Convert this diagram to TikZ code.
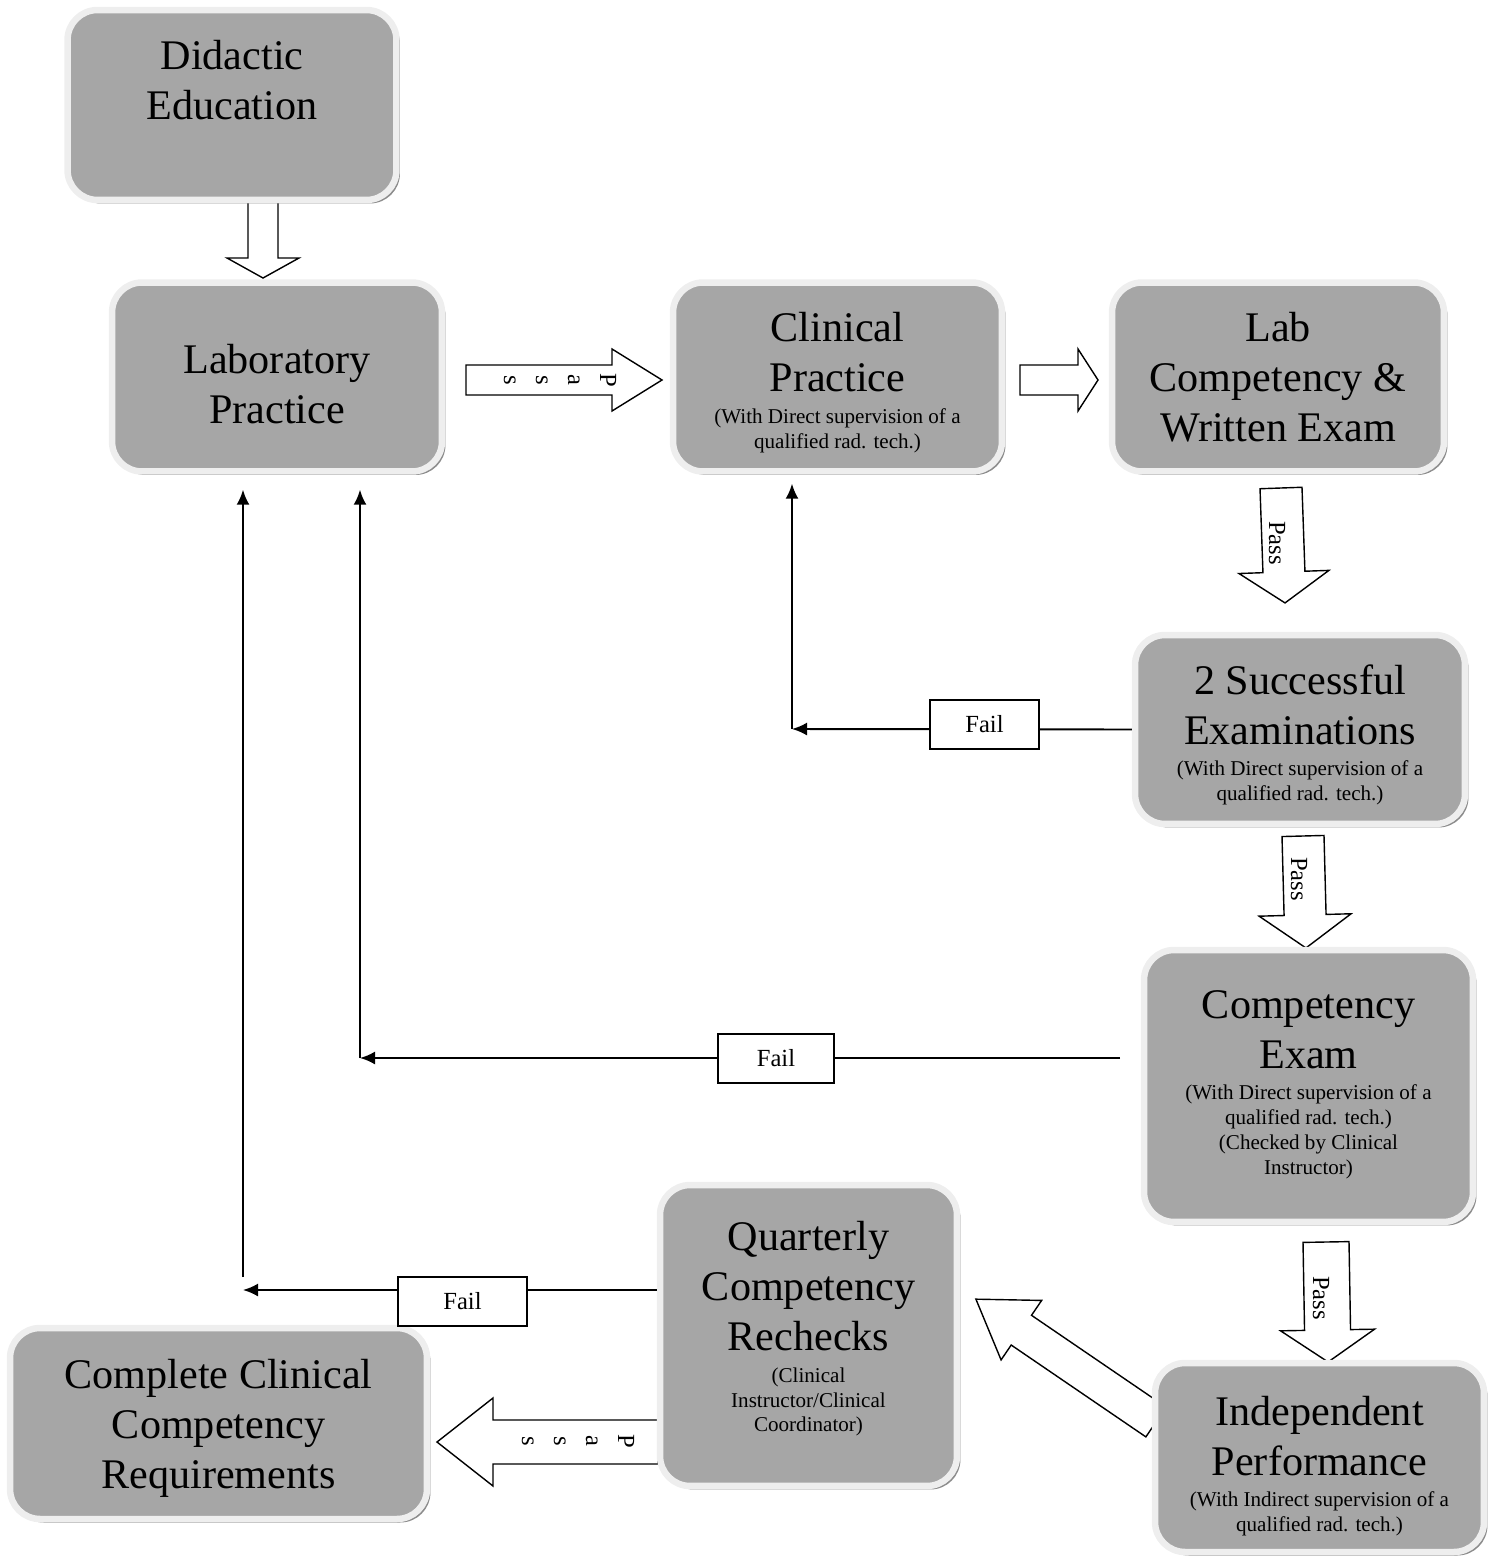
\documentclass[tikz,border=0pt]{standalone}
\usepackage{fontspec}
\setmainfont{Liberation Serif}
\usetikzlibrary{arrows.meta,shadows}

\definecolor{boxgray}{RGB}{166,166,166}
\definecolor{rimgray}{RGB}{238,238,238}
\newcommand{\bigline}{\fontsize{24}{28.45}\selectfont}
\newcommand{\smallline}{\fontsize{12}{14.2}\selectfont}
% the small remark under a stage title
\newcommand{\remark}[1]{{\smallline\begin{tabular}[t]{@{}c@{}}#1\end{tabular}}}
% hollow block arrow: tail point, angle, length, shaft half width, head half width, head length
\newcommand{\fatarrow}[6]{%
    \begin{scope}[shift={#1}, rotate=#2]
        \draw[fat] (0,#4) -- ({#3-#6},#4) -- ({#3-#6},#5) -- (#3,0)
            -- ({#3-#6},-#5) -- ({#3-#6},-#4) -- (0,-#4) -- cycle;
    \end{scope}}

\begin{document}
\begin{tikzpicture}[x=0.02cm, y=-0.02cm,
        stage/.style={
            % The shape:
            rectangle, rounded corners=0.6cm,
            % The border
            line width=0.13cm, draw=rimgray,
            drop shadow={shadow xshift=0.07cm, shadow yshift=-0.07cm, fill=black!45, opacity=1},
            % The filling
            fill=boxgray,
            % Font
            font=\bigline, align=center, inner sep=0pt
        },
        failbox/.style={
            rectangle, draw=black, thick, fill=white,
            minimum height=0.98cm, font=\fontsize{14}{16}\selectfont
        },
        passtext/.style={font=\fontsize{14}{18.2}\selectfont, rotate=-90, align=center},
        fat/.style={draw=black, thick, fill=white, line join=miter},
        flow/.style={line width=1.1pt, -{Latex[length=0.3cm, width=0.26cm]}}
    ]

    \useasboundingbox (0,0) rectangle (1494,1561);

    % hollow arrows first, so the stages sit on top
    \fatarrow{(263,200)}{-90}{78}{15}{36}{20}
    \fatarrow{(466,380)}{0}{196}{15}{31}{50}
    \fatarrow{(1020,380)}{0}{78}{15}{31}{20}
    \fatarrow{(1281,488)}{-88}{115}{21}{45}{31}
    \fatarrow{(1303,836)}{-88.5}{112}{21}{46}{33}
    \fatarrow{(1326,1242)}{-89}{120}{23}{47}{32}
    \fatarrow{(1156,1422)}{145.7}{218}{18}{36}{55}
    \fatarrow{(658,1442)}{180}{221}{22}{44}{56}

    \node [passtext] (pass1) at (560,380) {P\\a\\s\\s};
    \node [passtext] (pass2) at (1277,543) {Pass};
    \node [passtext] (pass3) at (1299,879) {Pass};
    \node [passtext] (pass4) at (1321,1298) {Pass};
    \node [passtext] (pass5) at (578,1441) {P\\a\\s\\s};

    % the stages
    \node [stage, minimum width=6.58cm, minimum height=3.8cm] (didactic) at (232,105)
        {Didactic\\Education\\\mbox{}};
    \node [stage, minimum width=6.6cm, minimum height=3.78cm] (labpractice) at (277,377)
        {\rule{0pt}{25pt}Laboratory\\Practice};
    \node [stage, minimum width=6.58cm, minimum height=3.78cm] (clinical) at (837.5,377)
        {\rule{0pt}{24.5pt}Clinical\\Practice\\[-10.5pt]\remark{(With Direct supervision of a\\qualified rad. tech.)}};
    \node [stage, minimum width=6.64cm, minimum height=3.78cm] (labcomp) at (1278,377)
        {Lab\\Competency \&\\Written Exam};
    \node [stage, minimum width=6.6cm, minimum height=3.78cm] (twoexams) at (1300,729.5)
        {\rule{0pt}{24.5pt}2 Successful\\Examinations\\[-10.5pt]\remark{(With Direct supervision of a\\qualified rad. tech.)}};
    \node [stage, minimum width=6.58cm, minimum height=5.44cm] (compexam) at (1308.5,1086)
        {Competency\\Exam\\[-10.5pt]\remark{(With Direct supervision of a\\qualified rad. tech.)\\(Checked by Clinical\\Instructor)}};
    \node [stage, minimum width=5.94cm, minimum height=6.02cm] (quarterly) at (808.5,1335.5)
        {Quarterly\\Competency\\Rechecks\\[-10.5pt]\remark{(Clinical\\Instructor/Clinical\\Coordinator)}\rule[-38.5pt]{0pt}{0pt}};
    \node [stage, minimum width=6.58cm, minimum height=3.78cm] (independent) at (1319.5,1457.5)
        {\rule{0pt}{28pt}Independent\\Performance\\[-10.5pt]\remark{(With Indirect supervision of a\\qualified rad. tech.)}};
    \node [stage, minimum width=8.34cm, minimum height=3.82cm] (complete) at (218.5,1423.5)
        {\rule{0pt}{22pt}Complete Clinical\\Competency\\Requirements};

    % fail loops
    \coordinate (bend1) at (792,729);
    \coordinate (start2) at (1120,1058);
    \coordinate (bend2) at (360,1058);
    \coordinate (bend3) at (243,1290);
    \coordinate (foot3) at (243,1277);

    \draw [flow] (twoexams.west) -- (bend1);
    \draw [flow, shorten >=0.18cm] (bend1) -- (bend1 |- clinical.south);
    \draw [flow] (start2) -- (bend2);
    \draw [flow, shorten >=0.3cm] (bend2) -- (bend2 |- labpractice.south);
    \draw [flow] (quarterly.west |- bend3) -- (bend3);
    \draw [flow, shorten >=0.3cm] (foot3) -- (foot3 |- labpractice.south);

    \node [failbox, minimum width=2.18cm] (fail1) at (984.5,724.5) {Fail};
    \node [failbox, minimum width=2.32cm] (fail2) at (776,1058.5) {Fail};
    \node [failbox, minimum width=2.58cm] (fail3) at (462.5,1301.5) {Fail};

\end{tikzpicture}
\end{document}
